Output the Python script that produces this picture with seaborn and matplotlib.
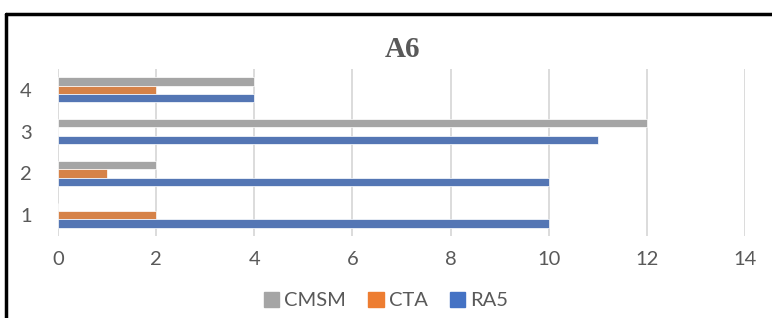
import pandas as pd
import seaborn as sns
import matplotlib.pyplot as plt
from matplotlib.lines import Line2D

categories = ["1", "2", "3", "4"]
ra5 = [10, 10, 11, 4]
cta = [2, 1, 0, 2]
cmsm = [0, 2, 12, 4]

series = ["CMSM", "CTA", "RA5"]
colors = {"CMSM": "#A5A5A5", "CTA": "#ED7D31", "RA5": "#4472C4"}

df = pd.DataFrame({
    "cat": categories * 3,
    "val": cmsm + cta + ra5,
    "series": ["CMSM"] * 4 + ["CTA"] * 4 + ["RA5"] * 4,
})

sns.set_theme(style="white")
plt.rcParams["font.family"] = ["Lato", "DejaVu Sans"]

fig = plt.figure(figsize=(7.72, 3.18), dpi=100)
ax = fig.add_axes([0.0751, 0.258, 0.8899, 0.525])

sns.barplot(data=df, x="val", y="cat", hue="series", order=categories[::-1],
            hue_order=series, palette=colors, orient="h", width=0.6,
            edgecolor="white", linewidth=0.5, ax=ax)

ax.set_xlim(0, 14)
ax.set_xticks(range(0, 15, 2))
ax.grid(axis="x", color="#d9d9d9", linewidth=1.3)
ax.set_axisbelow(True)
for s in ax.spines.values():
    s.set_visible(False)
ax.set_xlabel("")
ax.set_ylabel("")
ax.tick_params(axis="both", length=0, labelsize=14.5, colors="#595959")
ax.tick_params(axis="x", pad=11)
ax.tick_params(axis="y", pad=19)

ax.legend_.remove()
handles = [plt.Rectangle((0, 0), 1, 1, color=colors[s]) for s in series]
fig.legend(handles, series, loc="center", bbox_to_anchor=(0.5, 0.055), ncol=3,
           frameon=False, fontsize=14.5, handlelength=0.75, handleheight=0.75,
           handletextpad=0.25, columnspacing=1.1, labelcolor="#595959")

fig.text(0.522, 0.845, "A6", ha="center", va="center", fontsize=21,
         fontweight="bold", color="#595959", family="Liberation Serif")

# chart frame (top and left edges visible)
fig.lines.append(Line2D([6 / 772, 1.0], [1 - 14 / 318] * 2, transform=fig.transFigure,
                        color="black", linewidth=2.5))
fig.lines.append(Line2D([6 / 772] * 2, [0.0, 1 - 14 / 318], transform=fig.transFigure,
                        color="black", linewidth=2.5))

fig.savefig("out.png", dpi=100)
